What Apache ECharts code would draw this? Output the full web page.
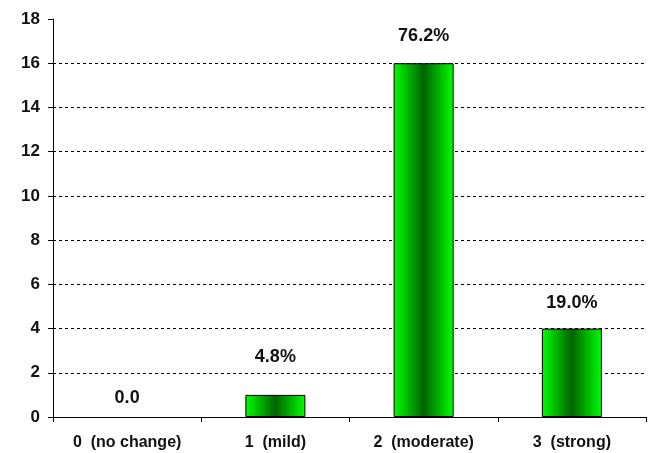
<!DOCTYPE html>
<html><head><meta charset="utf-8">
<script src="https://cdn.jsdelivr.net/npm/echarts@6/dist/echarts.min.js"></script>
<style>html,body{margin:0;padding:0;background:#fff}#c{width:656px;height:453px}</style>
</head><body><div id="c"></div>
<script>
const categories = ['0  (no change)', '1  (mild)', '2  (moderate)', '3  (strong)'];
const counts = [0, 1, 16, 4];
const pctLabels = ['0.0', '4.8%', '76.2%', '19.0%'];

const chart = echarts.init(document.getElementById('c'));
const font = '"Liberation Sans", Arial, sans-serif';
const gridColors = ['#000','#000','#000','#000','#000','#000','#000','#000','#000','rgba(0,0,0,0)'];
const labelGap = [10, 29, 18, 17];
const seriesData = counts.map((v, i) => ({
  value: v,
  itemStyle: v === 0 ? { borderWidth: 0 } : {},
  label: { distance: labelGap[i] }
}));
chart.setOption({
  animation: false,
  grid: { left: 53, right: 10, top: 19, bottom: 36, containLabel: false },
  xAxis: {
    type: 'category', data: categories,
    axisLine: { lineStyle: { color: '#000', width: 1 } },
    axisTick: { show: true, alignWithLabel: false, length: 5, lineStyle: { color: '#000' } },
    axisLabel: { color: '#111', fontFamily: font, fontWeight: 'bold', fontSize: 16, margin: 18 }
  },
  yAxis: {
    type: 'value', min: 0, max: 18, interval: 2,
    axisLine: { show: true, lineStyle: { color: '#000', width: 1 } },
    axisTick: { show: true, length: 5, lineStyle: { color: '#000' } },
    axisLabel: { color: '#111', fontFamily: font, fontWeight: 'bold', fontSize: 17, margin: 13 },
    splitLine: { show: true, lineStyle: { color: gridColors, type: [3, 3], width: 1 } }
  },
  series: [{
    type: 'bar', data: seriesData, barWidth: 60,
    itemStyle: {
      borderColor: '#000', borderWidth: 1,
      color: new echarts.graphic.LinearGradient(0, 0, 1, 0, [
        { offset: 0, color: '#00ff00' },
        { offset: 0.5, color: '#006400' },
        { offset: 1, color: '#00ff00' }
      ])
    },
    label: {
      show: true, position: 'top',
      color: '#111', fontFamily: font, fontWeight: 'bold', fontSize: 18,
      formatter: p => pctLabels[p.dataIndex]
    }
  }]
});
</script></body></html>
